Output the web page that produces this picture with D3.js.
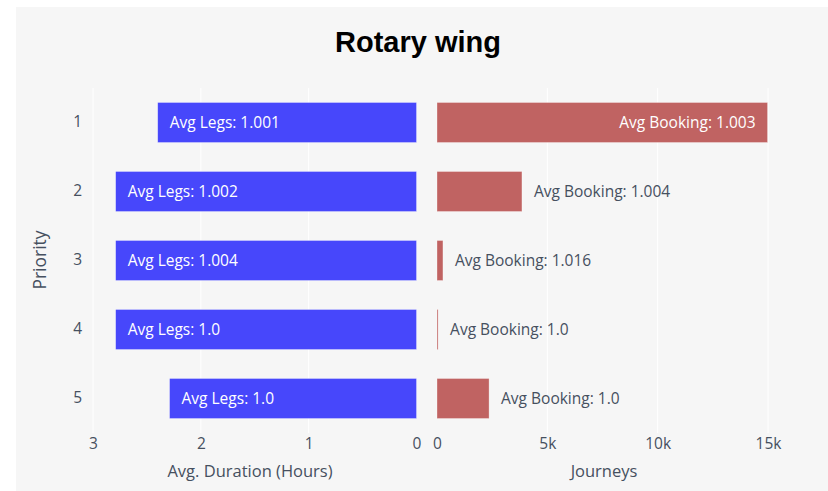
<!DOCTYPE html>
<html>
<head>
<meta charset="utf-8">
<script src="https://cdn.jsdelivr.net/npm/d3@7"></script>
<style>
  body { margin: 0; background: #fff; }
  svg { display: block; font-family: "Open Sans", sans-serif; }
</style>
</head>
<body>
<svg id="chart" width="828" height="491"></svg>
<script>
// values
const priorities = ['1', '2', '3', '4', '5'];
const avgDuration = [2.40, 2.79, 2.79, 2.79, 2.29];
const journeys = [14980, 3850, 270, 50, 2360];
const avgLegs = ['1.001', '1.002', '1.004', '1.0', '1.0'];
const avgBooking = ['1.003', '1.004', '1.016', '1.0', '1.0'];
const durationTicks = [3, 2, 1, 0];
const journeyTicks = [0, 5000, 10000, 15000];

const svg = d3.select('#chart');
const textColor = '#46505f';
const blue = '#4747fb';
const red = '#c06362';

// paper background
svg.append('rect')
  .attr('x', 16).attr('y', 7)
  .attr('width', 812).attr('height', 484)
  .style('fill', '#f6f6f6');

svg.append('text')
  .attr('x', 418).attr('y', 52)
  .attr('text-anchor', 'middle')
  .style('font-family', '"Liberation Sans", Arial, sans-serif')
  .style('font-weight', 'bold')
  .style('font-size', '29px')
  .style('fill', '#000')
  .text('Rotary wing');

let y = d3.scaleBand()
  .domain(priorities)
  .range([88, 433])
  .paddingInner(0.42)
  .paddingOuter(0.21);

let xLeft = d3.scaleLinear().domain([3, 0]).range([93, 416.5]);
let xRight = d3.scaleLinear().domain([0, 15000]).range([437, 768]);

let rows = priorities.map((p, i) => ({
  p: p, dur: avgDuration[i], jr: journeys[i], legs: avgLegs[i], book: avgBooking[i]
}));

// gridlines
let grid = svg.append('g').classed('grid', true);
grid.selectAll('line.gl')
  .data(durationTicks.filter(t => t !== 0))
  .enter().append('line')
  .attr('x1', d => xLeft(d)).attr('x2', d => xLeft(d))
  .attr('y1', 88).attr('y2', 433)
  .style('stroke', '#fff').style('stroke-width', 1);
grid.selectAll('line.gr')
  .data(journeyTicks.filter(t => t !== 0))
  .enter().append('line')
  .attr('x1', d => xRight(d)).attr('x2', d => xRight(d))
  .attr('y1', 88).attr('y2', 433)
  .style('stroke', '#fff').style('stroke-width', 1);

// left bars: duration, reversed axis
let left = svg.append('g').classed('left-bars', true);
left.selectAll('rect')
  .data(rows)
  .enter().append('rect')
  .attr('x', d => xLeft(d.dur))
  .attr('y', d => y(d.p))
  .attr('width', d => xLeft(0) - xLeft(d.dur))
  .attr('height', y.bandwidth())
  .style('fill', blue)
  .style('stroke', 'rgba(255,255,255,0.45)')
  .style('stroke-width', 0.7);

left.selectAll('text')
  .data(rows)
  .enter().append('text')
  .attr('x', d => xLeft(d.dur) + 12)
  .attr('y', d => y(d.p) + y.bandwidth() / 2)
  .attr('dy', '0.35em')
  .style('font-size', '15.5px')
  .style('fill', '#fff')
  .text(d => `Avg Legs: ${d.legs}`);

// right bars: journeys
let right = svg.append('g').classed('right-bars', true);
right.selectAll('rect')
  .data(rows)
  .enter().append('rect')
  .attr('x', xRight(0))
  .attr('y', d => y(d.p))
  .attr('width', d => xRight(d.jr) - xRight(0))
  .attr('height', y.bandwidth())
  .style('fill', red)
  .style('stroke', 'rgba(255,255,255,0.45)')
  .style('stroke-width', 0.7);

right.selectAll('text')
  .data(rows)
  .enter().append('text')
  .each(function (d) {
    let t = d3.select(this);
    let label = `Avg Booking: ${d.book}`;
    t.text(label).style('font-size', '15.5px');
    let w = this.getComputedTextLength();
    let barW = xRight(d.jr) - xRight(0);
    // inside if it fits, otherwise outside
    if (w + 24 < barW) {
      t.attr('x', xRight(d.jr) - 12).attr('text-anchor', 'end').style('fill', '#fff');
    } else {
      t.attr('x', xRight(d.jr) + 12).attr('text-anchor', 'start').style('fill', textColor);
    }
  })
  .attr('y', d => y(d.p) + y.bandwidth() / 2)
  .attr('dy', '0.35em');

// axes
let axisLeft = d3.axisBottom(xLeft).tickValues(durationTicks).tickFormat(d3.format('d')).tickSize(0).tickPadding(0);
let axisRight = d3.axisBottom(xRight).tickValues(journeyTicks).tickFormat(d => d === 0 ? '0' : (d / 1000) + 'k').tickSize(0).tickPadding(0);
let axisY = d3.axisLeft(y).tickSize(0).tickPadding(0);

[svg.append('g').attr('transform', 'translate(0,438)').call(axisLeft),
 svg.append('g').attr('transform', 'translate(0,438)').call(axisRight)].forEach(g => {
  g.select('.domain').remove();
  g.selectAll('text')
    .attr('dy', '0.71em')
    .style('font-family', '"Open Sans", sans-serif')
    .style('font-size', '15.5px')
    .style('fill', textColor);
});

let gy = svg.append('g').attr('transform', 'translate(82,0)').call(axisY);
gy.select('.domain').remove();
gy.selectAll('text')
  .style('font-family', '"Open Sans", sans-serif')
  .style('font-size', '15.5px')
  .style('fill', textColor);

// axis titles
svg.append('text')
  .attr('x', 250).attr('y', 477)
  .attr('text-anchor', 'middle')
  .style('font-size', '16.5px')
  .style('fill', textColor)
  .text('Avg. Duration (Hours)');

svg.append('text')
  .attr('x', 604).attr('y', 477)
  .attr('text-anchor', 'middle')
  .style('font-size', '16.5px')
  .style('fill', textColor)
  .text('Journeys');

svg.append('text')
  .attr('transform', 'translate(46,260) rotate(-90)')
  .attr('text-anchor', 'middle')
  .style('font-size', '17.5px')
  .style('fill', textColor)
  .text('Priority');
</script>
</body>
</html>
